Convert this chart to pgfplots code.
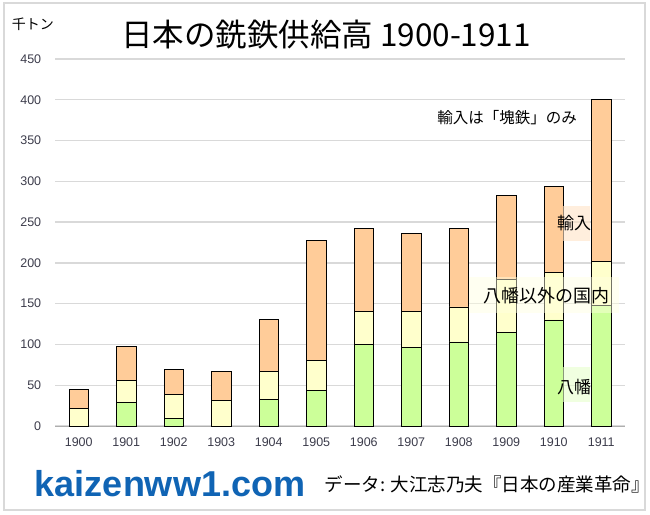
\documentclass[border=0pt]{standalone}
\usepackage{pgfplots}
\pgfplotsset{compat=1.18}
\usepackage{pgfplotstable}
\usepackage{fontspec}
\setmainfont{Liberation Sans}
\newfontfamily\cjk{Noto Sans CJK JP}
\definecolor{cgreen}{RGB}{204,255,153}
\definecolor{cyellow}{RGB}{255,255,204}
\definecolor{corange}{RGB}{255,204,153}
\definecolor{gridgray}{RGB}{217,217,217}
\definecolor{ticktext}{RGB}{60,60,75}
\definecolor{siteblue}{RGB}{16,100,180}
\pgfplotstableread{
x g y o
0 0 22 23
1 29 27 42
2 9 30 30
3 0 31 36
4 33 34 64
5 44 36 148
6 100 41 101
7 96 45 95
8 103 43 96
9 115 65 103
10 130 58 106
11 148 54 198
}\data
\begin{document}
\begin{tikzpicture}[x=1pt,y=1pt]
\useasboundingbox (0,0) rectangle (650,514);
\draw[color=gridgray, line width=1.5pt] (4,4) rectangle (645,511);
\begin{axis}[
  at={(55pt,88pt)}, anchor=south west,
  scale only axis, width=570pt, height=367pt,
  ymin=0, ymax=450, xmin=-0.5, xmax=11.5,
  ybar stacked, bar width=19.5pt,
  ytick={0,50,...,450},
  xtick={0,...,11},
  xticklabels={1900,1901,1902,1903,1904,1905,1906,1907,1908,1909,1910,1911},
  extra x ticks={-0.5,0.5,...,11.5},
  extra x tick labels={},
  extra x tick style={major tick length=5pt, tick style={draw=gridgray!70!black, line width=0.6pt}},
  major x tick style={draw=none},
  tick align=outside,
  axis x line*=bottom, axis y line*=left,
  x axis line style={-, draw=gridgray!80!black, line width=0.8pt},
  y axis line style={draw=none},
  ytick style={draw=none},
  ymajorgrids, grid style={draw=gridgray, line width=1.3pt},
  /pgf/number format/assume math mode=true,
  ticklabel style={font=\fontsize{12.5}{14}\selectfont, text=ticktext},
  yticklabel style={xshift=-6pt},
  xticklabel style={yshift=-4pt},
  every axis plot/.append style={draw=black, line width=0.7pt},
]
\addplot[fill=cgreen] table[x=x,y=g]{\data};
\addplot[fill=cyellow] table[x=x,y=y]{\data};
\addplot[fill=corange] table[x=x,y=o]{\data};
\end{axis}
% labels
\node[fill=corange!55, fill opacity=0.6, inner sep=0pt, minimum width=27pt, minimum height=35pt] at (576,290) {};
\node[font=\cjk\fontsize{17}{20}\selectfont] at (574,291) {輸入};
\node[fill=cyellow!60, fill opacity=0.45, inner sep=0pt, minimum width=150pt, minimum height=36pt] at (544,219) {};
\node[font=\cjk\fontsize{18}{20}\selectfont] at (546,218) {八幡以外の国内};
\node[fill=cgreen!50, fill opacity=0.6, inner sep=0pt, minimum width=27pt, minimum height=35pt] at (576,129) {};
\node[font=\cjk\fontsize{17}{20}\selectfont] at (574,127) {八幡};
\node[font=\cjk\fontsize{15.5}{18}\selectfont] at (507,396) {輸入は「塊鉄」のみ};
\node[font=\cjk\fontsize{14}{16}\selectfont] at (33,490) {千トン};
\node[font=\cjk\fontsize{31.5}{34}\selectfont] at (326,479) {日本の銑鉄供給高 1900-1911};
\node[font=\bfseries\fontsize{36}{38}\selectfont, text=siteblue] at (170,30) {kaizenww1.com};
\node[font=\cjk\fontsize{18.5}{20}\selectfont, anchor=west] at (321,30) {データ: 大江志乃夫『日本の産業革命』};
\end{tikzpicture}
\end{document}
